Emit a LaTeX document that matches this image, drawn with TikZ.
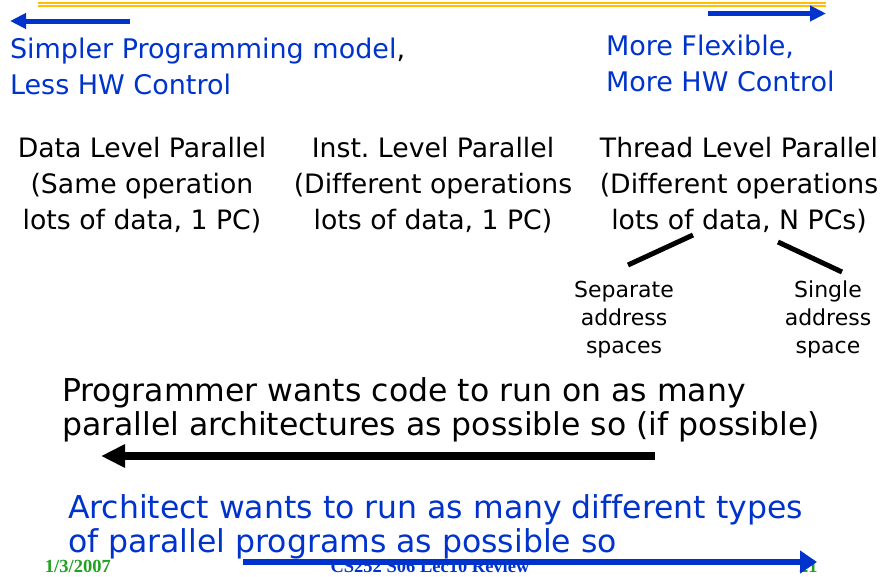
\documentclass[tikz,border=0pt]{standalone}
\usepackage{fontspec}
\setmainfont[Ligatures=NoCommon]{DejaVu Sans}
\newfontfamily\footfont{Liberation Serif}
\usetikzlibrary{arrows.meta}
\definecolor{tblue}{HTML}{0033CC}
\definecolor{ablue}{HTML}{0033CC}
\definecolor{gold}{HTML}{FFC000}
\definecolor{fgreen}{HTML}{22A022}
\frenchspacing
\tikzset{
  every node/.style={inner sep=0pt, outer sep=0pt},
  bluetxt/.style={text=tblue, font=\fontsize{27}{32}\selectfont, anchor=base west},
  coltxt/.style={font=\fontsize{26.7}{32}\selectfont, anchor=base},
  subtxt/.style={font=\fontsize{22}{25}\selectfont, anchor=base},
  bigtxt/.style={font=\fontsize{31.5}{38}\selectfont, anchor=base west},
  foottxt/.style={font=\footfont\bfseries\fontsize{18.5}{20}\selectfont, anchor=base west},
  bluearrow/.style={draw=ablue, line width=5pt, -{Triangle[length=16pt,width=15pt]}},
  bottomarrow/.style={draw=ablue, line width=6pt, -{Triangle[length=17pt,width=22pt]}},
  blackarrow/.style={draw=black, line width=8pt, -{Triangle[length=24pt,width=22pt]}},
  branch/.style={draw=black, line width=5pt},
}
\begin{document}
\begin{tikzpicture}[x=1pt,y=-1pt]
\useasboundingbox (0,0) rectangle (884,576);
% gold rule
\coordinate (g1) at (38,3);
\coordinate (g2) at (826,3);
\coordinate (g3) at (38,6.2);
\coordinate (g4) at (826,6.2);
\draw[gold, line width=1.6pt] (g1) -- (g2);
\draw[gold, line width=2.4pt] (g3) -- (g4);
% top arrows
\coordinate (la1) at (130,21);
\coordinate (la2) at (10,21);
\coordinate (ra1) at (708,13.5);
\coordinate (ra2) at (826,13.5);
\draw[bluearrow] (la1) -- (la2);
\draw[bluearrow] (ra1) -- (ra2);
% top texts
\node[bluetxt] (s1) at (10,58) {Simpler Programming model{\color{black},}};
\node[bluetxt] (s2) at (10,94) {Less HW Control};
\node[bluetxt] (m1) at (606,55) {More Flexible,};
\node[bluetxt] (m2) at (606,91) {More HW Control};
% columns
\node[coltxt] (d1) at (142,157) {Data Level Parallel};
\node[coltxt] (d2) at (142,193) {(Same operation};
\node[coltxt] (d3) at (142,229) {lots of data, 1 PC)};
\node[coltxt] (i1) at (433,157) {Inst. Level Parallel};
\node[coltxt] (i2) at (433,193) {(Different operations};
\node[coltxt] (i3) at (433,229) {lots of data, 1 PC)};
\node[coltxt] (t1) at (739,157) {Thread Level Parallel};
\node[coltxt] (t2) at (739,193) {(Different operations};
\node[coltxt] (t3) at (739,229) {lots of data, N PCs)};
% branches
\coordinate (b1s) at (693,235);
\coordinate (b1e) at (628,265);
\coordinate (b2s) at (778,242);
\coordinate (b2e) at (842,272);
\draw[branch] (b1s) -- (b1e);
\draw[branch] (b2s) -- (b2e);
\node[subtxt] (p1) at (624,297) {Separate};
\node[subtxt] (p2) at (624,325) {address};
\node[subtxt] (p3) at (624,353) {spaces};
\node[subtxt] (q1) at (828,297) {Single};
\node[subtxt] (q2) at (828,325) {address};
\node[subtxt] (q3) at (828,353) {space};
% programmer
\node[bigtxt] (pr1) at (62,401) {Programmer wants code to run on as many};
\node[bigtxt] (pr2) at (62,435) {parallel architectures as possible so (if possible)};
\coordinate (ba1) at (655,456);
\coordinate (ba2) at (101,456);
\draw[blackarrow] (ba1) -- (ba2);
% architect
\node[bigtxt, text=tblue] (ar1) at (68,518) {Architect wants to run as many different types};
\node[bigtxt, text=tblue] (ar2) at (68,552) {of parallel programs as possible so};
% footer
\node[foottxt, text=fgreen] (date) at (45,572) {1/3/2007};
\node[foottxt, text=tblue, anchor=base] (title) at (430,572) {CS252 S06 Lec10 Review};
\node[foottxt, text=fgreen] (pg) at (799,572) {21};
\coordinate (bb1) at (243,562);
\coordinate (bb2) at (817,562);
\draw[bottomarrow] (bb1) -- (bb2);
\end{tikzpicture}
\end{document}
